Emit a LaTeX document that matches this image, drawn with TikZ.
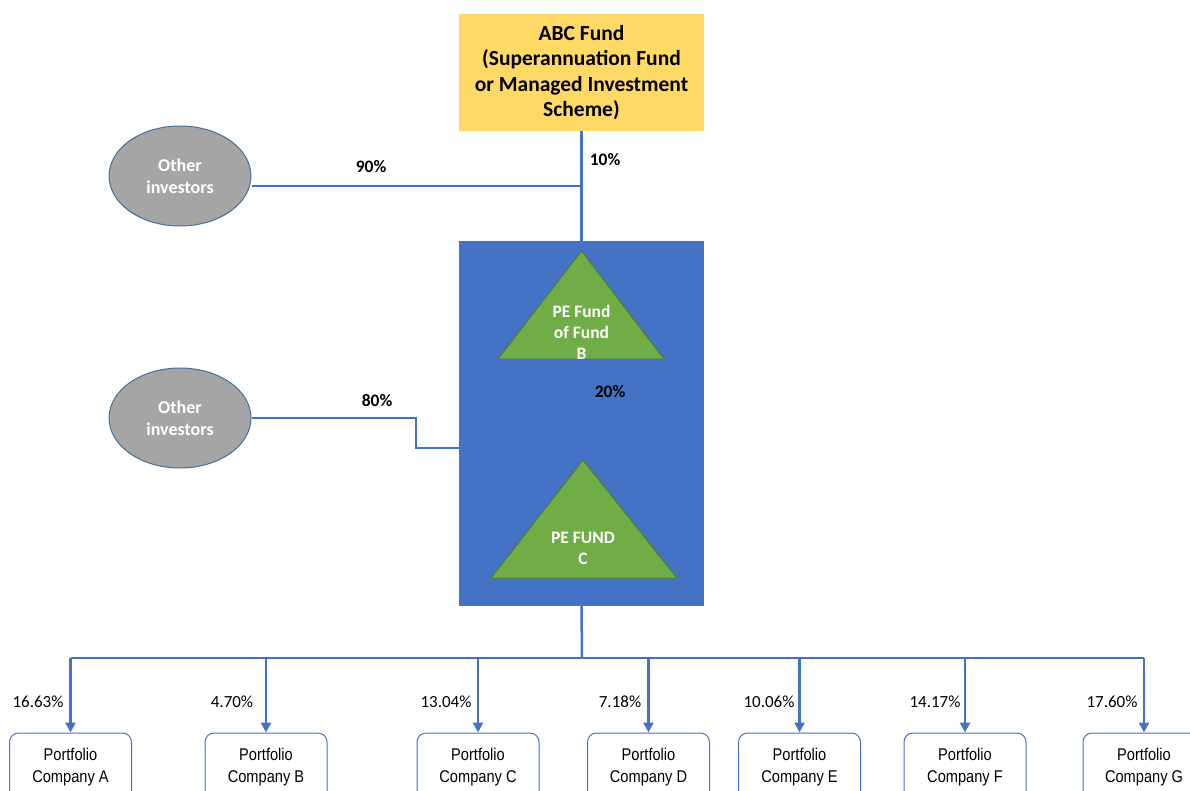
\documentclass[tikz,border=0pt]{standalone}
\usepackage{fontspec}
\setmainfont{Carlito}
\newfontfamily\arialnarrow[FakeStretch=0.86]{Liberation Sans}
\usetikzlibrary{shapes,arrows.meta,positioning}
\definecolor{abcyellow}{HTML}{FFD966}
\definecolor{lineblue}{HTML}{4472C4}
\definecolor{fundgreen}{HTML}{70AD47}
\definecolor{greenedge}{HTML}{507E32}
\definecolor{invgrey}{HTML}{A5A5A5}
\definecolor{greyedge}{HTML}{41719C}

\begin{document}
\begin{tikzpicture}[x=1pt, y=-1pt]
    \tikzstyle{fund} = [rectangle, fill=abcyellow, minimum width=245pt, minimum height=117pt, align=center, font=\fontsize{21.5}{25.5}\selectfont\bfseries]
    \tikzstyle{investor} = [ellipse, draw=greyedge, line width=1pt, fill=invgrey, minimum width=142pt, minimum height=100pt, text=white, align=center, font=\fontsize{18}{22}\selectfont\bfseries]
    \tikzstyle{holding} = [rectangle, fill=lineblue, minimum width=245pt, minimum height=365pt]
    \tikzstyle{pefund} = [draw=greenedge, line width=1pt, fill=fundgreen]
    \tikzstyle{pelabel} = [text=white, align=center, font=\fontsize{17.5}{21}\selectfont\bfseries]
    \tikzstyle{pct} = [font=\fontsize{17.5}{20}\selectfont\bfseries]
    \tikzstyle{share} = [font=\fontsize{17}{20}\selectfont]
    \tikzstyle{company} = [rectangle, rounded corners=9pt, draw=lineblue, line width=1pt, fill=white, minimum width=122pt, minimum height=68pt, align=center, font=\arialnarrow\fontsize{17}{22}\selectfont]
    \tikzstyle{link} = [draw=lineblue, line width=2.5pt]
    \tikzstyle{arrow} = [link, -{Triangle[length=10pt,width=10pt]}]

    \useasboundingbox (0,0) rectangle (1190,791);
    \clip (0,0) rectangle (1190,791);

    % funds and investors
    \node [fund] (abc) at (581.5,72.5) {ABC Fund\\(Superannuation Fund\\or Managed Investment\\Scheme)};
    \node [investor] (inv1) at (180,176) {Other\\investors};
    \node [investor] (inv2) at (180,418) {Other\\investors};
    \node [holding] (holding) at (581.5,423.5) {};

    \draw [pefund] (581.5,251) -- (664,359) -- (498,359) -- cycle;
    \node [pelabel] (peb) at (581.5,332) {PE Fund\\of Fund\\B};
    \draw [pefund] (583,460) -- (677,578) -- (491,578) -- cycle;
    \node [pelabel] (pec) at (583,548.5) {PE FUND\\C};

    % ownership lines
    \draw [link] (abc.south) -- (holding.north);
    \draw [link] ([yshift=-10pt]inv1.east) -- ([yshift=-10pt]inv1.east -| abc.south);
    \coordinate (jog) at (416,448);
    \draw [link] (inv2.east) -| (jog) -- (jog -| holding.west);

    \node [pct] (p10) at (605,160) {10\%};
    \node [pct] (p90) at (371,167) {90\%};
    \node [pct] (p80) at (377,401) {80\%};
    \node [pct] (p20) at (610,392) {20\%};

    % portfolio companies
    \foreach \name/\x/\pc/\px in {A/70.5/16.63/38, B/266/4.70/232, C/478/13.04/446, D/648.5/7.18/620, E/799.5/10.06/769, F/965/14.17/935, G/1144/17.60/1112}
    {
        \node [company] (comp\name) at (\x,767) {Portfolio\\Company \name};
        \node [share] (share\name) at (\px,702) {\pc\%};
    }

    \coordinate (bus) at (582,658);
    \draw [link] (holding.south) -- (bus);
    \draw [link] (bus -| compA) -- (bus -| compG);
    \foreach \name in {A,B,C,D,E,F,G}
        \draw [arrow] (bus -| comp\name) -- (comp\name.north);
\end{tikzpicture}
\end{document}
